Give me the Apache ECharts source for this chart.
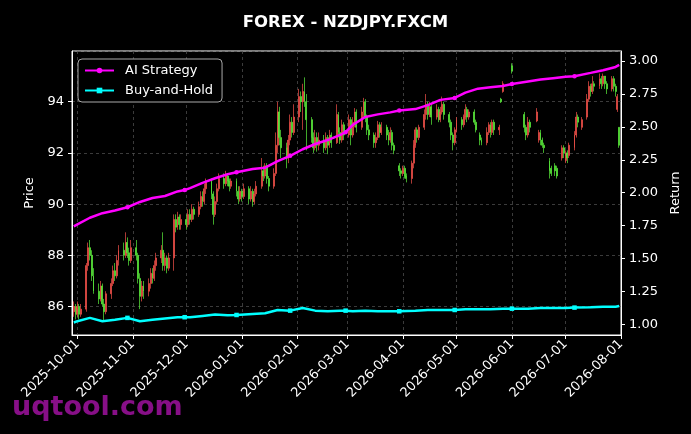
<!DOCTYPE html>
<html>
<head>
<meta charset="utf-8">
<script src="https://cdn.jsdelivr.net/npm/echarts@6/dist/echarts.min.js"></script>
<style>
  html, body { margin: 0; padding: 0; background: #000; }
  #chart { width: 691px; height: 434px; }
</style>
</head>
<body>
<div id="chart"></div>
<script>
// calendar range of the x axis and first trading day (Mon)
const firstDay = '2025-09-28';
const lastDay = '2026-08-01';
const firstTradeDay = '2025-09-29';

// daily candles, Mon..Fri, one row per week, null = no bar
const opens = [
  85.8, 86.0, 85.7, 86.0, 85.7,
  85.9, 87.6, 88.3, 88.0, 87.2,
  86.6, 86.3, 86.8, 86.1, 85.8,
  86.5, 86.9, 87.4, 87.2, 87.8,
  88.2, 88.0, 88.5, 88.1, 87.8,
  88.3, 88.0, 87.1, 86.4, 86.8,
  86.6, 86.9, 87.3, 87.1, 87.6,
  87.9, 88.2, 87.6, 87.9, 87.5,
  87.9, 89.4, 89.1, 89.5, 89.2,
  89.4, 89.2, 89.6, 89.4, 89.8,
  89.6, 89.9, 90.3, 90.1, 90.6,
  90.9, 90.4, 89.6, 90.1, 90.6,
  91.0, 90.8, 91.1, 90.9, 90.7,
  90.9, 90.5, 90.2, 90.5, 90.3,
  90.6, 90.2, 90.5, 90.1, 90.4,
  90.7, 91.3, 91.1, 91.5, 91.0,
  90.7, 91.2, 92.3, 93.6, 92.6,
  92.2, 91.8, 92.5, 93.2, 92.8,
  93.4, 94.2, 94.0, 94.4, 94.0,
  93.3, 92.6, 92.2, 92.6, 92.3,
  92.5, 92.2, 92.6, 92.3, 92.7,
  92.4, 93.5, 92.8, 92.5, 93.1,
  92.7, 93.3, 92.7, 93.2, 93.6,
  93.0, 93.6, 94.0, 93.4, 92.9,
  92.7, 92.4, 92.6, 93.1, 92.8,
  93.0, 92.7, 92.5, 92.8, 92.3,
  91.5, 91.3, 91.2, 91.4, 91.1,
  91.0, 91.6, 92.3, 92.9, 92.6,
  93.0, 93.5, 93.9, 93.5, 93.8,
  93.4, 93.7, 93.3, 93.6, 93.9,
  93.5, 93.2, 92.7, 92.4, 92.9,
  93.3, 93.1, 93.4, 93.7, 93.4,
  93.6, 93.2, null, 92.7, 92.5,
  92.4, 92.8, 93.1, 92.8, 93.2,
  92.9, 94.1, 94.4, null, null,
  95.4, null, null, null, null,
  93.5, 93.0, 92.7, 93.2, null,
  93.25, 92.5, 92.8, 92.5, 92.3,
  91.7, 91.4, null, 91.5, 91.4,
  91.8, 92.2, 91.7, 92.0, 91.9,
  92.2, 92.7, 93.4, null, 93.0,
  93.4, 94.1, 94.6, 94.4, 94.7,
  94.6, 94.9, 94.7, 95.0, 94.7,
  94.5, 94.9, 94.6, 93.7, 93.0
];
const closes = [
  86.0, 85.7, 86.0, 85.7, 85.9,
  87.6, 88.3, 88.0, 87.2, 86.6,
  86.3, 86.8, 86.1, 85.8, 86.5,
  86.9, 87.4, 87.2, 87.8, 88.2,
  88.0, 88.5, 88.1, 87.8, 88.3,
  88.0, 87.1, 86.4, 86.8, 86.6,
  86.9, 87.3, 87.1, 87.6, 87.9,
  88.2, 87.6, 87.9, 87.5, 87.9,
  89.4, 89.1, 89.5, 89.2, 89.4,
  89.2, 89.6, 89.4, 89.8, 89.6,
  89.9, 90.3, 90.1, 90.6, 90.9,
  90.4, 89.6, 90.1, 90.6, 91.0,
  90.8, 91.1, 90.9, 90.7, 90.9,
  90.5, 90.2, 90.5, 90.3, 90.6,
  90.2, 90.5, 90.1, 90.4, 90.7,
  91.3, 91.1, 91.5, 91.0, 90.7,
  91.2, 92.3, 93.6, 92.6, 92.2,
  91.8, 92.5, 93.2, 92.8, 93.4,
  94.2, 94.0, 94.4, 94.0, 93.3,
  92.6, 92.2, 92.6, 92.3, 92.5,
  92.2, 92.6, 92.3, 92.7, 92.4,
  93.5, 92.8, 92.5, 93.1, 92.7,
  93.3, 92.7, 93.2, 93.6, 93.0,
  93.6, 94.0, 93.4, 92.9, 92.7,
  92.4, 92.6, 93.1, 92.8, 93.0,
  92.7, 92.5, 92.8, 92.3, 92.1,
  91.3, 91.2, 91.4, 91.1, 91.0,
  91.6, 92.3, 92.9, 92.6, 93.0,
  93.5, 93.9, 93.5, 93.8, 93.4,
  93.7, 93.3, 93.6, 93.9, 93.5,
  93.2, 92.7, 92.4, 92.9, 93.3,
  93.1, 93.4, 93.7, 93.4, 93.6,
  93.2, 92.9, null, 92.5, 92.4,
  92.8, 93.1, 92.8, 93.2, 92.9,
  93.0, 94.0, 94.7, null, null,
  95.2, null, null, null, null,
  93.0, 92.7, 93.2, 93.0, null,
  93.6, 92.8, 92.5, 92.3, 92.2,
  91.3, 91.2, null, 91.3, 91.1,
  92.2, 92.0, 92.0, 91.8, 92.3,
  92.7, 93.4, 93.2, null, 93.3,
  94.1, 94.6, 94.4, 94.7, 94.6,
  94.9, 94.7, 95.0, 94.7, 94.5,
  94.9, 94.6, 94.4, 94.2, 92.3
];
const lows = [
  85.6, 85.5, 85.6, 85.5, 85.6,
  85.8, 87.4, 87.8, 87.0, 86.5,
  86.1, 86.2, 86.0, 85.45, 85.7,
  86.3, 86.8, 87.0, 87.1, 87.6,
  87.8, 87.9, 87.9, 87.6, 87.7,
  87.8, 86.9, 85.9, 86.2, 86.3,
  86.4, 86.7, 86.9, 87.0, 87.4,
  87.7, 87.4, 87.4, 87.3, 87.4,
  87.4, 88.9, 89.0, 89.0, 89.0,
  89.0, 89.1, 89.2, 89.3, 89.4,
  89.5, 89.8, 89.9, 90.0, 90.4,
  90.2, 89.2, 89.5, 90.0, 90.5,
  90.6, 90.7, 90.7, 90.5, 90.6,
  90.3, 90.0, 90.1, 90.1, 90.2,
  90.0, 90.1, 89.9, 90.0, 90.3,
  90.6, 90.9, 91.0, 90.8, 90.5,
  90.6, 91.1, 92.0, 92.3, 91.8,
  91.4, 91.6, 92.3, 92.6, 92.7,
  93.2, 93.6, 92.9, 93.8, 92.1,
  92.4, 92.0, 92.1, 92.05, 92.1,
  92.0, 92.1, 91.95, 92.2, 92.2,
  92.35, 92.6, 92.35, 92.4, 92.5,
  92.6, 92.3, 92.6, 93.0, 92.8,
  92.9, 93.4, 93.2, 92.7, 92.5,
  92.2, 92.2, 92.5, 92.6, 92.7,
  92.5, 92.3, 92.4, 92.1, 91.95,
  91.1, 91.0, 91.1, 91.0, 90.85,
  90.8, 91.4, 92.2, 92.4, 92.5,
  92.9, 93.3, 93.3, 93.4, 93.1,
  93.3, 93.2, 93.2, 93.5, 93.3,
  93.0, 92.5, 92.1, 92.3, 92.8,
  92.9, 93.0, 93.3, 93.2, 93.3,
  93.1, 92.8, null, 92.3, 92.3,
  92.3, 92.7, 92.6, 92.7, 92.7,
  92.7, 93.95, 94.35, null, null,
  95.1, null, null, null, null,
  92.8, 92.5, 92.6, 92.8, null,
  93.2, 92.4, 92.3, 92.2, 92.0,
  91.0, 91.1, null, 91.1, 91.0,
  91.7, 91.8, 91.6, 91.6, 91.8,
  92.1, 92.6, 93.0, null, 92.9,
  93.3, 94.0, 94.2, 94.3, 94.4,
  94.5, 94.5, 94.6, 94.5, 94.3,
  94.4, 94.4, 94.2, 93.6, 92.2
];
const highs = [
  86.2, 86.1, 86.2, 86.1, 86.1,
  87.7, 88.5, 88.6, 88.2, 87.5,
  86.9, 87.0, 86.9, 86.3, 86.6,
  87.1, 87.6, 87.7, 88.0, 88.4,
  88.5, 88.9, 88.7, 88.3, 88.6,
  88.6, 88.1, 87.3, 87.0, 87.0,
  87.1, 87.5, 87.5, 87.8, 88.1,
  88.4, 88.9, 88.1, 88.0, 88.1,
  89.6, 89.6, 89.7, 89.6, 89.6,
  89.6, 89.8, 89.8, 90.0, 89.9,
  90.1, 90.5, 90.5, 90.8, 91.0,
  91.0, 90.5, 90.3, 90.8, 91.2,
  91.2, 91.3, 91.2, 91.0, 91.0,
  91.0, 90.7, 90.7, 90.6, 90.8,
  90.7, 90.7, 90.6, 90.6, 90.9,
  91.8, 91.5, 91.6, 91.6, 91.1,
  91.4, 92.8, 94.0, 93.8, 92.9,
  92.4, 92.7, 93.5, 93.4, 93.9,
  94.5, 94.4, 94.7, 94.95, 94.3,
  93.4, 92.8, 92.9, 92.8, 92.8,
  92.7, 92.8, 92.7, 92.9, 92.8,
  93.9, 93.6, 93.0, 93.3, 93.2,
  93.5, 93.4, 93.4, 93.75, 93.7,
  93.8, 94.15, 94.1, 93.5, 93.1,
  92.8, 92.8, 93.25, 93.2, 93.2,
  93.1, 92.9, 93.0, 92.9, 92.4,
  91.6, 91.4, 91.5, 91.5, 91.2,
  91.7, 92.5, 93.0, 93.0, 93.1,
  93.7, 94.3, 94.0, 94.0, 93.9,
  93.9, 93.8, 93.8, 94.2, 94.0,
  93.6, 93.3, 92.8, 93.0, 93.4,
  93.4, 93.5, 93.9, 93.8, 93.7,
  93.7, 93.3, null, 92.8, 92.6,
  93.0, 93.2, 93.2, 93.3, 93.3,
  93.1, 94.15, 94.8, null, null,
  95.5, null, null, null, null,
  93.6, 93.1, 93.4, 93.3, null,
  93.75, 92.9, 92.9, 92.6, 92.4,
  91.8, 91.5, null, 91.6, 91.5,
  92.3, 92.3, 92.1, 92.1, 92.4,
  92.85, 93.6, 93.5, null, 93.4,
  94.3, 94.8, 94.7, 95.0, 94.8,
  95.1, 95.0, 95.1, 95.0, 94.8,
  95.0, 95.0, 94.7, 94.3, 93.0
];

// cumulative return readings (right axis)
const returnDates = [
  '2025-09-29', '2025-10-01', '2025-10-08', '2025-10-15', '2025-10-22', '2025-10-29',
  '2025-11-05', '2025-11-12', '2025-11-19', '2025-11-26', '2025-11-30', '2025-12-03',
  '2025-12-10', '2025-12-17', '2025-12-24', '2025-12-29', '2026-01-07', '2026-01-14',
  '2026-01-21', '2026-01-28', '2026-02-04', '2026-02-11', '2026-02-18', '2026-02-25',
  '2026-02-28', '2026-03-04', '2026-03-11', '2026-03-18', '2026-03-25', '2026-03-30',
  '2026-04-08', '2026-04-15', '2026-04-22', '2026-04-30', '2026-05-06', '2026-05-13',
  '2026-05-20', '2026-05-27', '2026-06-01', '2026-06-10', '2026-06-17', '2026-06-24',
  '2026-07-01', '2026-07-06', '2026-07-15', '2026-07-22', '2026-07-29', '2026-07-31'
];
const aiReturns = [
  1.745, 1.76, 1.81, 1.845, 1.865, 1.89,
  1.93, 1.96, 1.975, 2.01, 2.02, 2.035,
  2.075, 2.11, 2.14, 2.155, 2.18, 2.19,
  2.24, 2.28, 2.33, 2.37, 2.40, 2.44,
  2.46, 2.515, 2.575, 2.595, 2.61, 2.625,
  2.635, 2.665, 2.705, 2.72, 2.76, 2.79,
  2.80, 2.81, 2.825, 2.845, 2.86, 2.87,
  2.88, 2.885, 2.91, 2.93, 2.955, 2.97
];
const bhReturns = [
  1.015, 1.025, 1.05, 1.025, 1.035, 1.05,
  1.025, 1.035, 1.045, 1.055, 1.055, 1.055,
  1.065, 1.075, 1.07, 1.072, 1.08, 1.085,
  1.11, 1.105, 1.125, 1.105, 1.10, 1.105,
  1.105, 1.10, 1.105, 1.10, 1.10, 1.10,
  1.105, 1.11, 1.11, 1.11, 1.115, 1.115,
  1.115, 1.12, 1.12, 1.12, 1.125, 1.125,
  1.125, 1.128, 1.13, 1.135, 1.135, 1.14
];
const markerDates = [
  '2025-10-29', '2025-11-30', '2025-12-29', '2026-01-28', '2026-02-28',
  '2026-03-30', '2026-04-30', '2026-06-01', '2026-07-06'
];

const upColor = '#f5524a';
const downColor = '#5cf03c';
const font = 'DejaVu Sans';

// x categories: every calendar day
const DAY = 86400000;
const days = [];
for (let t = Date.parse(firstDay); t <= Date.parse(lastDay); t += DAY) {
  days.push(new Date(t).toISOString().slice(0, 10));
}

// candles on weekdays only
const candleData = [];
let k = 0;
days.forEach(d => {
  const wd = new Date(d).getUTCDay();
  if (d < firstTradeDay || wd === 0 || wd === 6 || k >= opens.length) {
    candleData.push('-');
    return;
  }
  candleData.push(opens[k] == null ? '-' : [opens[k], closes[k], lows[k], highs[k]]);
  k++;
});

function lineData(vals) {
  return days.map(d => {
    const i = returnDates.indexOf(d);
    if (i < 0) return '-';
    if (markerDates.indexOf(d) >= 0) return { value: vals[i], symbolSize: 4.5 };
    return vals[i];
  });
}

const isMonthStart = (i, v) => v.slice(8) === '01';
const gridLine = { show: true, lineStyle: { color: '#555', width: 0.7, type: [3, 3] } };

var myChart = echarts.init(document.getElementById('chart'));
var option = {
  backgroundColor: '#000',
  animation: false,
  textStyle: { fontFamily: font },
  title: {
    text: 'FOREX - NZDJPY.FXCM',
    left: 'center',
    top: 9,
    textStyle: { color: '#fff', fontSize: 16.5, fontWeight: 'bold', fontFamily: font }
  },
  legend: {
    data: ['AI Strategy', 'Buy-and-Hold'],
    orient: 'vertical',
    left: 78,
    top: 59,
    padding: [5, 9, 5, 6],
    itemGap: 7,
    itemWidth: 29,
    itemHeight: 7,
    backgroundColor: '#000',
    borderColor: '#aaa',
    borderWidth: 1,
    borderRadius: 4,
    textStyle: { color: '#fff', fontSize: 13, fontFamily: font, padding: [0, 0, 0, 6] }
  },
  grid: {
    left: 72, right: 70, top: 51, bottom: 99,
    show: true, borderColor: '#fff', borderWidth: 1
  },
  graphic: [{
    type: 'text',
    left: 12,
    top: 394,
    z: -1,
    style: { text: 'uqtool.com', fill: '#870f87', font: 'bold 27px "DejaVu Sans"' }
  }],
  xAxis: {
    type: 'category',
    data: days,
    boundaryGap: false,
    axisLine: { lineStyle: { color: '#fff' } },
    axisTick: { interval: isMonthStart, length: 4, lineStyle: { color: '#fff' } },
    axisLabel: { interval: isMonthStart, rotate: 45, color: '#fff', fontSize: 13, fontFamily: font, margin: 7 },
    splitLine: Object.assign({ interval: isMonthStart }, gridLine)
  },
  yAxis: [
    {
      type: 'value',
      position: 'left',
      min: 84.89,
      max: 95.98,
      minInterval: 2,
      maxInterval: 2,
      name: 'Price',
      nameLocation: 'middle',
      nameGap: 33,
      nameTextStyle: { color: '#fff', fontSize: 13, fontFamily: font },
      axisLine: { show: true, lineStyle: { color: '#fff' } },
      axisTick: { show: true, length: 4, lineStyle: { color: '#fff' } },
      axisLabel: { color: '#fff', fontSize: 13, fontFamily: font, margin: 8, showMinLabel: false, showMaxLabel: false },
      splitLine: gridLine
    },
    {
      type: 'value',
      position: 'right',
      min: 0.92,
      max: 3.076,
      minInterval: 0.25,
      maxInterval: 0.25,
      name: 'Return',
      nameLocation: 'middle',
      nameGap: 46,
      nameTextStyle: { color: '#fff', fontSize: 13, fontFamily: font },
      axisLine: { show: true, lineStyle: { color: '#fff' } },
      axisTick: { show: true, length: 4, lineStyle: { color: '#fff' } },
      axisLabel: {
        color: '#fff', fontSize: 13, fontFamily: font, margin: 8,
        showMinLabel: false, showMaxLabel: false,
        formatter: v => v.toFixed(2)
      },
      splitLine: { show: false }
    }
  ],
  series: [
    {
      name: 'NZDJPY',
      type: 'candlestick',
      xAxisIndex: 0,
      yAxisIndex: 0,
      barWidth: 1.4,
      data: candleData,
      itemStyle: {
        color: upColor, color0: downColor,
        borderColor: upColor, borderColor0: downColor, borderWidth: 0.7
      },
      z: 2
    },
    {
      name: 'AI Strategy',
      type: 'line',
      yAxisIndex: 1,
      data: lineData(aiReturns),
      connectNulls: true,
      symbol: 'circle',
      symbolSize: 0,
      showAllSymbol: true,
      lineStyle: { color: '#ff00ff', width: 2.5 },
      itemStyle: { color: '#ff00ff' },
      z: 4
    },
    {
      name: 'Buy-and-Hold',
      type: 'line',
      yAxisIndex: 1,
      data: lineData(bhReturns),
      connectNulls: true,
      symbol: 'rect',
      symbolSize: 0,
      showAllSymbol: true,
      lineStyle: { color: '#00ffff', width: 2.5 },
      itemStyle: { color: '#00ffff' },
      z: 4
    }
  ]
};
myChart.setOption(option);
</script>
</body>
</html>
